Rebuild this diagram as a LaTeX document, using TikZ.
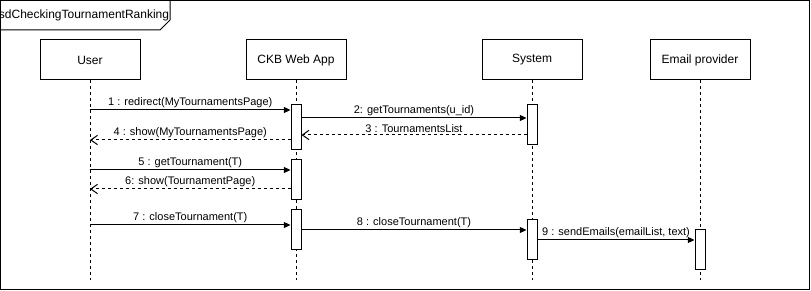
\documentclass[tikz,border=0pt]{standalone}
\usepackage{fontspec}
\setmainfont{Liberation Sans}
\usetikzlibrary{arrows.meta,positioning}
\definecolor{ink}{HTML}{000000}
\tikzset{head/.style={draw=ink, line width=.75pt, minimum width=75pt, minimum height=30pt, inner sep=0pt, font=\fontsize{9}{11}\selectfont}, life/.style={draw=ink, line width=.75pt, dash pattern=on 2.25pt off 2.25pt}, act/.style={draw=ink, fill=white, line width=.75pt, minimum width=7.5pt, minimum height=30pt, inner sep=0pt}, call/.style={-{Triangle[length=5pt,width=4.5pt]}, line width=.75pt, color=ink}, reply/.style={-{Straight Barb[length=5pt,width=7pt]}, line width=.75pt, dash pattern=on 2.25pt off 2.25pt, color=ink}, msg/.style={midway, above, inner sep=1.5pt, font=\fontsize{8.25}{10}\selectfont, text=ink}}

\begin{document}
\begin{tikzpicture}[x=.75pt,y=-.75pt]
\useasboundingbox (0,0) rectangle (811,291);
% frame and its name tab
\draw[line width=.75pt, ink] (.5,.5) rectangle (809.5,289.5);
\draw[line width=.75pt, ink] (.5,30) -- (160,30) -- (170,20) -- (170,.5);
\node[font=\fontsize{9}{11}\selectfont] (title) at (84,15) {sdCheckingTournamentRanking};
% heads and lifelines
\node[head] (user) at (90,60) {User}; \node[head] (web) at (296,60) {CKB Web App};
\node[head] (sys) at (532,60) {System}; \node[head] (mail) at (700,60) {Email provider};
\foreach \n/\x in {user/90, web/296, sys/532, mail/700} { \coordinate (\n end) at (\x,280); \draw[life] (\n) -- (\n end); }
% activations
\node[act, minimum height=33.75pt] (w1) at (296,127.5) {}; \node[act] (w2) at (296,180) {}; \node[act] (w3) at (296,230) {};
\node[act] (s1) at (532,125) {}; \node[act] (s2) at (532,240) {}; \node[act] (e1) at (700,250) {};
% messages
\coordinate (m1) at (90,110); \draw[call] (m1) -- (m1 -| w1.west) node[msg] {1 : redirect(MyTournamentsPage)};
\coordinate (m2) at (296,118); \draw[call] (m2 -| w1.east) -- (m2 -| s1.west) node[msg] {2: getTournaments(u\_id)};
\coordinate (m3) at (532,135); \draw[reply] (m3 -| s1.west) -- (m3 -| w1.east) node[msg] {3 : TournamentsList};
\coordinate (m4) at (296,140); \draw[reply] (m4 -| w1.west) -- (m4 -| user) node[msg] {4 : show(MyTournamentsPage)};
\coordinate (m5) at (90,170); \draw[call] (m5) -- (m5 -| w2.west) node[msg] {5 : getTournament(T)};
\coordinate (m6) at (296,189); \draw[reply] (m6 -| w2.west) -- (m6 -| user) node[msg] {6: show(TournamentPage)};
\coordinate (m7) at (90,225); \draw[call] (m7) -- (m7 -| w3.west) node[msg] {7 : closeTournament(T)};
\coordinate (m8) at (296,230); \draw[call] (m8 -| w3.east) -- (m8 -| s2.west) node[msg] {8 : closeTournament(T)};
\coordinate (m9) at (532,240); \draw[call] (m9 -| s2.east) -- (m9 -| e1.west) node[msg] {9 : sendEmails(emailList, text)};
\end{tikzpicture}
\end{document}
